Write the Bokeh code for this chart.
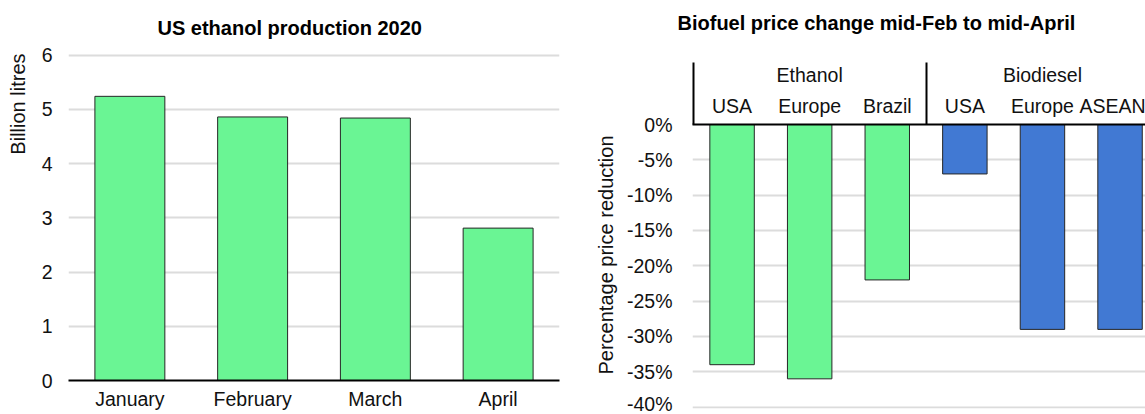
import math
from bokeh.plotting import figure
from bokeh.models import (Range1d, FactorRange, FixedTicker, LinearAxis,
                          CustomJSTickFormatter, PrintfTickFormatter, Title)
from bokeh.layouts import row
from bokeh.embed import file_html
from bokeh.resources import INLINE

# ---------------- data ----------------
months = ["January", "February", "March", "April"]
production = [5.24, 4.86, 4.84, 2.81]          # billion litres
prod_ticks = [0, 1, 2, 3, 4, 5, 6]

fuels = ["Ethanol", "Ethanol", "Ethanol", "Biodiesel", "Biodiesel", "Biodiesel"]
regions = ["USA", "Europe", "Brazil", "USA", "Europe", "ASEAN"]
price_change = [-34, -36, -22, -7, -29, -29]   # percent
pct_ticks = [0, -5, -10, -15, -20, -25, -30, -35, -40]

# ---------------- style ----------------
FONT = "Liberation Sans"
GREEN = "#6af594"
BLUE = "#4179d3"
EDGE = "#262626"
GRID = "#dcdcdc"
TXT = "#111111"
TICK_FS = "19.5px"
LAB_FS = "20px"
fuel_color = {"Ethanol": GREEN, "Biodiesel": BLUE}


def style_common(p):
    p.outline_line_color = None
    p.background_fill_color = "white"
    p.border_fill_color = "white"
    p.title.text_font = FONT
    p.title.text_font_size = "20px"
    p.title.text_font_style = "bold"
    p.title.text_color = "#000000"
    p.title.align = "left"
    if hasattr(p, "frame_align"):
        p.frame_align = False


def side_title(p, text, align, offset):
    # spacer label so that the side title sits clear of the tick labels
    p.yaxis.axis_label = " "
    p.yaxis.axis_label_text_font_size = "1px"
    t = Title(text=text, align=align, offset=offset, standoff=0,
              text_font=FONT, text_font_size=LAB_FS, text_font_style="normal",
              text_color=TXT)
    p.add_layout(t, "left")


# ---------------- left chart ----------------
p1 = figure(width=580, height=414, x_range=FactorRange(*months),
            y_range=Range1d(0, 6.03), output_backend="svg", toolbar_location=None,
            min_border_left=68, min_border_right=21, min_border_top=52,
            min_border_bottom=34, title="US ethanol production 2020")
style_common(p1)
p1.title.offset = 89
p1.title.standoff = 29

p1.vbar(x=months, top=production, width=0.57, fill_color=GREEN,
        line_color=EDGE, line_width=1)

p1.xgrid.grid_line_color = None
p1.ygrid.ticker = FixedTicker(ticks=prod_ticks)
p1.ygrid.grid_line_color = GRID
p1.ygrid.grid_line_width = 2

p1.yaxis.ticker = FixedTicker(ticks=prod_ticks)
p1.yaxis.axis_line_color = None
p1.yaxis.major_tick_line_color = None
p1.yaxis.minor_tick_line_color = None
p1.yaxis.major_label_standoff = 16

p1.xaxis.axis_line_color = "black"
p1.xaxis.axis_line_width = 2
p1.xaxis.major_tick_line_color = None
p1.xaxis.major_label_standoff = 7

for ax in (p1.xaxis, p1.yaxis):
    ax.major_tick_in = 0
    ax.major_tick_out = 0
    ax.minor_tick_in = 0
    ax.minor_tick_out = 0
    ax.major_label_text_font = FONT
    ax.major_label_text_font_size = TICK_FS
    ax.major_label_text_color = TXT

side_title(p1, "Billion litres", "right", 0)
p1.yaxis.axis_label_standoff = 6

# ---------------- right chart ----------------
xs = [i + 0.5 for i in range(len(regions))]
bar_colors = [fuel_color[f] for f in fuels]

# group boundaries / centers derived from the fuel list
seps, centers = [], []
start = 0
for i in range(1, len(fuels) + 1):
    if i == len(fuels) or fuels[i] != fuels[start]:
        seps.append(start)
        centers.append((start + i) / 2)
        start = i

p2 = figure(width=565, height=414, x_range=Range1d(-0.01, 5.828),
            y_range=Range1d(-40.2, 0), output_backend="svg",
            toolbar_location=None, x_axis_location=None,
            min_border_left=112, min_border_right=0, min_border_top=124,
            min_border_bottom=6,
            title="Biofuel price change mid-Feb to mid-April\n\u00a0")
style_common(p2)
p2.title.offset = -15
p2.title.standoff = 9
p2.xgrid.visible = False

p2.vbar(x=xs, bottom=price_change, top=0, width=0.573, fill_color=bar_colors,
        line_color=EDGE, line_width=1)

p2.ygrid.ticker = FixedTicker(ticks=pct_ticks[1:])
p2.ygrid.grid_line_color = GRID
p2.ygrid.grid_line_width = 2

p2.yaxis.ticker = FixedTicker(ticks=pct_ticks)
p2.yaxis.formatter = PrintfTickFormatter(format="%d%%")
p2.yaxis.axis_line_color = None
p2.yaxis.major_tick_line_color = None
p2.yaxis.minor_tick_line_color = None
p2.yaxis.major_tick_in = 0
p2.yaxis.major_tick_out = 0
p2.yaxis.minor_tick_in = 0
p2.yaxis.minor_tick_out = 0
p2.yaxis.major_label_standoff = 20
p2.yaxis.major_label_text_font = FONT
p2.yaxis.major_label_text_font_size = TICK_FS
p2.yaxis.major_label_text_color = TXT

fmt_code = "const k = Math.floor(tick); return (k >= 0 && k < labels.length) ? labels[k] : '';"

SEP_LEN = 62
ax_regions = LinearAxis(
    ticker=FixedTicker(ticks=xs, minor_ticks=seps),
    formatter=CustomJSTickFormatter(args=dict(labels=regions), code=fmt_code),
    major_tick_in=0, major_tick_out=0, minor_tick_in=0, minor_tick_out=SEP_LEN,
    minor_tick_line_color="black", minor_tick_line_width=2,
    axis_line_color="black", axis_line_width=2,
    major_label_standoff=8 - SEP_LEN,
    major_label_text_font=FONT, major_label_text_font_size=TICK_FS,
    major_label_text_color=TXT)
p2.add_layout(ax_regions, "above")

ax_fuels = LinearAxis(
    ticker=FixedTicker(ticks=centers),
    formatter=CustomJSTickFormatter(args=dict(labels=fuels), code=fmt_code),
    major_tick_in=0, major_tick_out=0, minor_tick_in=0, minor_tick_out=0,
    major_tick_line_color=None, minor_tick_line_color=None,
    axis_line_color=None, major_label_standoff=6,
    major_label_text_font=FONT, major_label_text_font_size=TICK_FS,
    major_label_text_color=TXT)
p2.add_layout(ax_fuels, "above")

side_title(p2, "Percentage price reduction", "right", 11)
p2.yaxis.axis_label_standoff = 3

layout = row(p1, p2)
open("out.html", "w").write(file_html(layout, INLINE))
